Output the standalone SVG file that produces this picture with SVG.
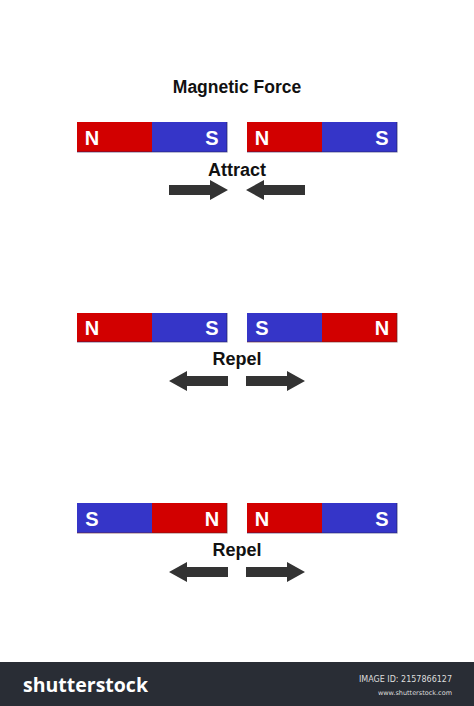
<svg xmlns="http://www.w3.org/2000/svg" width="474" height="706" viewBox="0 0 474 706">
<style>
.red{fill:#d20000}
.blue{fill:#3535c8}
.pole{font-family:"Liberation Sans",Arial,sans-serif;font-weight:bold;font-size:20px;fill:#fff;text-anchor:middle}
.lbl{font-family:"Liberation Sans",Arial,sans-serif;font-weight:bold;font-size:18px;fill:#111;text-anchor:middle}
.ttl{font-family:"Liberation Sans",Arial,sans-serif;font-weight:bold;font-size:17.5px;fill:#111;text-anchor:middle}
.arr{fill:#333}
</style>
<defs>
<path id="arR" d="M0,-5 H41 V-10 L59,0 L41,10 V5 H0 Z"/>
<path id="arL" d="M0,-5 H-41 V-10 L-59,0 L-41,10 V5 H0 Z"/>
</defs>
<rect width="474" height="706" fill="#fff"/>
<text class="ttl" x="237" y="93">Magnetic Force</text>

<g id="magnet1">
<rect class="red" x="77" y="122" width="75" height="30"/>
<rect class="blue" x="152" y="122" width="75" height="30"/>
<path d="M77,152 H227 V122" fill="none" stroke="#202060" stroke-width="1.2" opacity="0.6"/>
<text class="pole" x="92" y="145">N</text>
<text class="pole" x="212" y="145">S</text>
</g>
<g id="magnet2">
<rect class="red" x="247" y="122" width="75" height="30"/>
<rect class="blue" x="322" y="122" width="75" height="30"/>
<path d="M247,152 H397 V122" fill="none" stroke="#202060" stroke-width="1.2" opacity="0.6"/>
<text class="pole" x="262" y="145">N</text>
<text class="pole" x="382" y="145">S</text>
</g>
<text class="lbl" x="237" y="176">Attract</text>

<g id="magnet3">
<rect class="red" x="77" y="313" width="75" height="29"/>
<rect class="blue" x="152" y="313" width="75" height="29"/>
<path d="M77,342 H227 V313" fill="none" stroke="#202060" stroke-width="1.2" opacity="0.6"/>
<text class="pole" x="92" y="335">N</text>
<text class="pole" x="212" y="335">S</text>
</g>
<g id="magnet4">
<rect class="blue" x="247" y="313" width="75" height="29"/>
<rect class="red" x="322" y="313" width="75" height="29"/>
<path d="M247,342 H397 V313" fill="none" stroke="#602020" stroke-width="1.2" opacity="0.6"/>
<text class="pole" x="262" y="335">S</text>
<text class="pole" x="382" y="335">N</text>
</g>
<text class="lbl" x="237" y="365">Repel</text>

<g id="magnet5">
<rect class="blue" x="77" y="503" width="75" height="30"/>
<rect class="red" x="152" y="503" width="75" height="30"/>
<path d="M77,533 H227 V503" fill="none" stroke="#602020" stroke-width="1.2" opacity="0.6"/>
<text class="pole" x="92" y="526">S</text>
<text class="pole" x="212" y="526">N</text>
</g>
<g id="magnet6">
<rect class="red" x="247" y="503" width="75" height="30"/>
<rect class="blue" x="322" y="503" width="75" height="30"/>
<path d="M247,533 H397 V503" fill="none" stroke="#202060" stroke-width="1.2" opacity="0.6"/>
<text class="pole" x="262" y="526">N</text>
<text class="pole" x="382" y="526">S</text>
</g>
<text class="lbl" x="237" y="556">Repel</text>

<g id="connectors">
<use href="#arR" class="arr" x="169" y="190"/>
<use href="#arL" class="arr" x="305" y="190"/>
<use href="#arL" class="arr" x="228" y="381"/>
<use href="#arR" class="arr" x="246" y="381"/>
<use href="#arL" class="arr" x="228" y="572"/>
<use href="#arR" class="arr" x="246" y="572"/>
</g>

<g id="footer">
<rect x="0" y="662" width="474" height="44" fill="#292d35"/>
<text x="23" y="692" font-family="'Open Sans','Liberation Sans',sans-serif" font-weight="bold" font-size="19.5" fill="#fff">shutterstock</text>
<text x="452" y="682" font-family="'DejaVu Sans',sans-serif" font-size="8" fill="#ddd" text-anchor="end">IMAGE ID: 2157866127</text>
<text x="452" y="695" font-family="'DejaVu Sans',sans-serif" font-size="6.5" fill="#ddd" text-anchor="end">www.shutterstock.com</text>
</g>
</svg>
